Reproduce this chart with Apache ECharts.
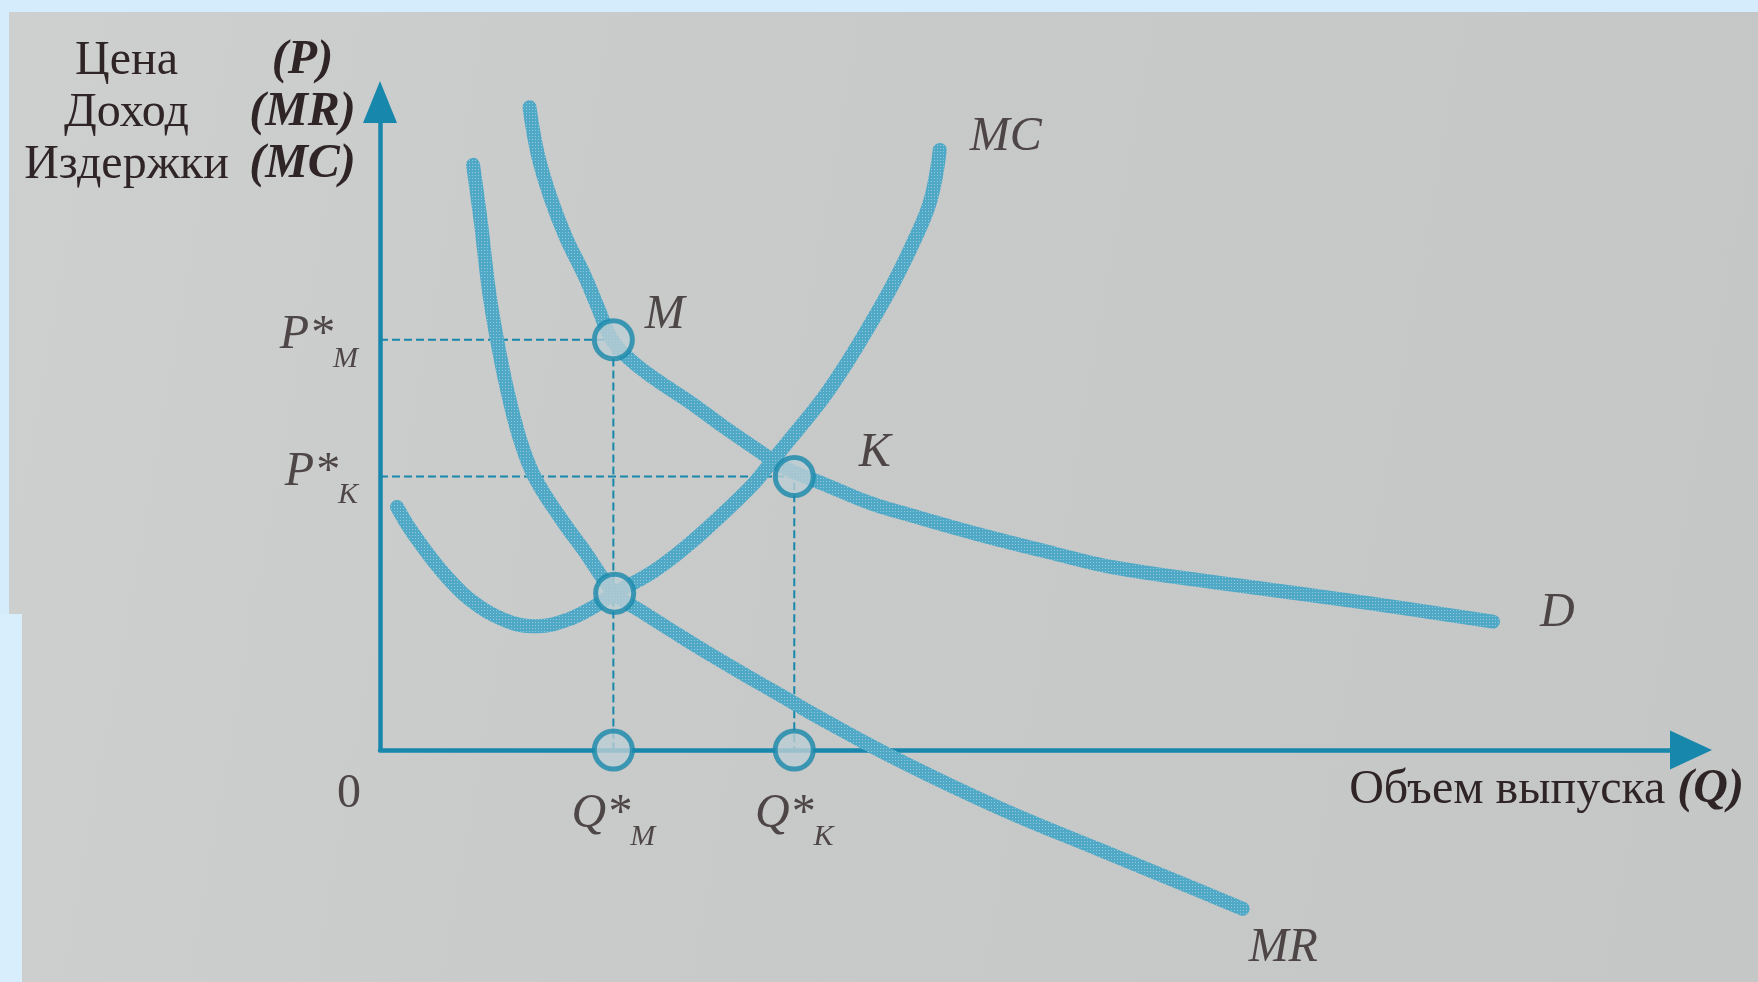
<!DOCTYPE html>
<html lang="ru">
<head>
<meta charset="UTF-8">
<title>Монополия и конкуренция: D, MR, MC</title>
<script src="https://cdn.jsdelivr.net/npm/echarts@6/dist/echarts.min.js"></script>
<style>
  html, body { margin: 0; padding: 0; width: 1758px; height: 982px; overflow: hidden; background: #d4ecfb; }
  #paper { position: absolute; left: 9px; top: 12px; right: 0; bottom: 0;
           background: linear-gradient(100deg, #cecfcf 0%, #c8c9c9 45%, #c5c6c6 100%); }
  #strip { position: absolute; left: 0; top: 614px; width: 22px; bottom: 0; background: #d8eefc; }
  #main { position: absolute; left: 0; top: 0; width: 1758px; height: 982px; }
</style>
</head>
<body>
<div id="paper"></div>
<div id="strip"></div>
<div id="main"></div>
<script>
// кривая спроса D
const dX = [11.4, 12.05, 13.0, 14.2, 15.6, 16.6, 17.7, 19.1, 21.1, 23.7, 26.2, 28.8, 30.4, 31.9, 33.8, 37.4, 40.7, 45.8, 50.9, 55.9, 65.1, 75.3, 84.9];
const dY = [99.2, 91.8, 85.3, 79.0, 73.2, 68.4, 63.3, 60.2, 57.1, 53.6, 49.9, 46.3, 44.1, 42.6, 41.1, 38.1, 36.1, 33.2, 30.6, 28.2, 25.5, 22.7, 19.8];
// предельный доход MR
const mrX = [7.1, 7.7, 8.3, 8.9, 9.7, 10.7, 11.8, 13.7, 15.6, 17.9, 20.0, 22.9, 25.4, 28.0, 30.5, 33.6, 39.7, 47.3, 54.9, 62.6, 65.8];
const mrY = [90.3, 81.3, 71.0, 63.6, 55.6, 47.8, 42.1, 36.0, 30.7, 24.2, 21.3, 17.6, 14.5, 11.4, 8.5, 4.9, -1.7, -9.0, -15.4, -21.8, -24.5];
// предельные издержки MC
const mcX = [1.3, 2.5, 5.1, 7.6, 10.1, 12.0, 14.3, 16.3, 17.9, 20.8, 23.3, 25.8, 28.4, 29.8, 31.3, 33.8, 35.6, 37.4, 39.1, 40.7, 42.0, 42.7];
const mcY = [37.5, 33.5, 26.7, 22.1, 19.6, 19.1, 20.1, 22.1, 24.2, 27.5, 31.3, 35.8, 40.9, 44.3, 48.0, 54.3, 59.7, 65.7, 71.8, 78.4, 84.9, 92.6];

// равновесия: монополия (M) и конкуренция (K)
const Qm = 17.8, Pm = 63.3;
const Qk = 31.6, Pk = 42.2;
const mrmcPoint = [17.9, 24.2];

const yTitleLines = [['Цена', '(P)'], ['Доход', '(MR)'], ['Издержки', '(MC)']];
const xTitle = ['Объем выпуска ', '(Q)'];

const serif = 'Liberation Serif';
const ink = '#2f2526';
const axisColor = '#1787ab';
const curveBase = '#4fa8c6';

const zip = (xs, ys) => xs.map((x, i) => [x, ys[i]]);

// растровая заливка, как в печатной книге
function halftone(base, dot) {
  const c = document.createElement('canvas');
  c.width = 3; c.height = 3;
  const g = c.getContext('2d');
  g.fillStyle = base; g.fillRect(0, 0, 3, 3);
  g.fillStyle = dot; g.fillRect(1, 1, 1, 1);
  return { image: c, repeat: 'repeat' };
}
const curveFill = halftone(curveBase, '#92c9da');
const dotFill = halftone('#bccfd5', '#a4c3cc');

const subRich = {
  b: { fontFamily: serif, fontStyle: 'italic', fontSize: 48, lineHeight: 48, color: ink },
  s: { fontFamily: serif, fontStyle: 'italic', fontSize: 30, lineHeight: 30, padding: [46, 0, 0, 0], color: ink }
};
const italicLabel = { fontFamily: serif, fontStyle: 'italic', fontSize: 48, color: ink };

const myChart = echarts.init(document.getElementById('main'), null, { renderer: 'canvas' });

function curve(name, data) {
  return {
    type: 'line', name: name, data: data, smooth: 0.4,
    showSymbol: false, clip: false, silent: true,
    lineStyle: { color: curveFill, width: 14, cap: 'round', join: 'round' },
    z: 3
  };
}

function dashed(points) {
  return {
    type: 'line', data: points, showSymbol: false, clip: false, silent: true,
    lineStyle: { color: axisColor, width: 2, type: [8, 4] }, z: 2
  };
}

const option = {
  animation: false,
  title: [
    {
      left: 12, top: 30,
      text: yTitleLines.map(l => '{a|' + l[0] + '}{b|' + l[1] + '}').join('\n'),
      textStyle: {
        fontWeight: 'normal',
        rich: {
          a: { fontFamily: serif, fontSize: 48, lineHeight: 52, width: 219, align: 'center',
               fontWeight: 'normal', color: ink },
          b: { fontFamily: serif, fontSize: 48, lineHeight: 52, width: 133, align: 'center',
               fontStyle: 'italic', fontWeight: 'bold', color: ink }
        }
      }
    },
    {
      right: 9, top: 759,
      text: '{a|' + xTitle[0] + '}{b|' + xTitle[1] + '}',
      textStyle: {
        fontWeight: 'normal',
        rich: {
          a: { fontFamily: serif, fontSize: 48, lineHeight: 52, fontWeight: 'normal', color: ink },
          b: { fontFamily: serif, fontSize: 48, lineHeight: 52, fontStyle: 'italic', fontWeight: 'bold', color: ink }
        }
      }
    }
  ],
  grid: { left: 380, right: 67, top: 102, bottom: 232 },
  xAxis: {
    type: 'value', min: 0, max: 100,
    axisLine: { onZero: false, symbol: ['none', 'triangle'], symbolSize: [39, 42],
                lineStyle: { color: axisColor, width: 4.5 } },
    axisTick: { show: false }, axisLabel: { show: false }, splitLine: { show: false }
  },
  yAxis: {
    type: 'value', min: 0, max: 100,
    axisLine: { show: true, onZero: false, symbol: ['none', 'triangle'], symbolSize: [34, 42],
                lineStyle: { color: axisColor, width: 4.5 } },
    axisTick: { show: false }, axisLabel: { show: false }, splitLine: { show: false }
  },
  series: [
    dashed([[0, Pm], [Qm, Pm], [Qm, 0]]),
    dashed([[0, Pk], [Qk, Pk], [Qk, 0]]),
    curve('MR', zip(mrX, mrY)),
    curve('MC', zip(mcX, mcY)),
    curve('D', zip(dX, dY)),
    {
      // точки равновесия
      type: 'scatter', symbol: 'circle', symbolSize: 38, clip: false, silent: true, z: 5,
      itemStyle: { color: dotFill, borderColor: '#1888ab', borderWidth: 5 },
      data: [
        { value: [Qm, Pm], label: { show: true, formatter: 'M', position: 'right', distance: 10, offset: [0, -24], ...italicLabel } },
        { value: [Qk, Pk], label: { show: true, formatter: 'K', position: 'right', distance: 43, offset: [0, -23], ...italicLabel } },
        { value: mrmcPoint },
        { value: [Qm, 0], label: { show: true, formatter: '{b|Q*}{s|M}', position: 'bottom', distance: 19, rich: subRich } },
        { value: [Qk, 0], label: { show: true, formatter: '{b|Q*}{s|K}', position: 'bottom', distance: 19, rich: subRich } }
      ]
    },
    {
      // подписи на осях и у концов кривых
      type: 'scatter', symbolSize: 0, clip: false, silent: true, z: 6,
      data: [
        { value: [0, Pm], label: { show: true, formatter: '{b|P*}{s|M}', position: 'left', distance: 22, offset: [0, -4], rich: subRich } },
        { value: [0, Pk], label: { show: true, formatter: '{b|P*}{s|K}', position: 'left', distance: 22, offset: [0, -4], rich: subRich } },
        { value: [0, 0], label: { show: true, formatter: '0', position: 'bottom', distance: 20, offset: [-31, 0],
                                  fontFamily: serif, fontSize: 48, color: ink } },
        { value: [mcX[mcX.length - 1], mcY[mcY.length - 1]], label: { show: true, formatter: 'MC', position: 'right', distance: 30, offset: [0, -13], ...italicLabel } },
        { value: [dX[dX.length - 1], dY[dY.length - 1]], label: { show: true, formatter: 'D', position: 'right', distance: 47, offset: [0, -8], ...italicLabel } },
        { value: [mrX[mrX.length - 1], mrY[mrY.length - 1]], label: { show: true, formatter: 'MR', position: 'right', distance: 6, offset: [0, 40], ...italicLabel } }
      ]
    }
  ]
};

myChart.setOption(option);
</script>
</body>
</html>
